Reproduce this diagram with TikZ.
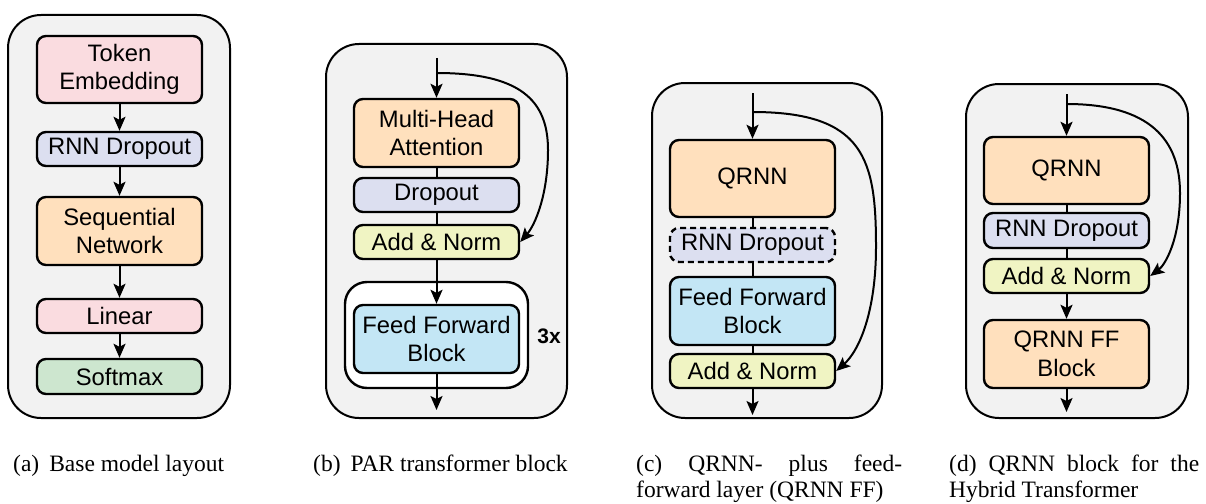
\documentclass[tikz,border=0pt]{standalone}
\usepackage{fontspec}
\setmainfont{Liberation Serif}
\setsansfont{Liberation Sans}
\usetikzlibrary{arrows.meta}
\definecolor{panelgray}{HTML}{F2F2F2}
\definecolor{cpink}{HTML}{FADCE0}
\definecolor{clav}{HTML}{DCDFF0}
\definecolor{corange}{HTML}{FFE0BD}
\definecolor{clime}{HTML}{F0F4C3}
\definecolor{cblue}{HTML}{C3E6F5}
\definecolor{cgreen}{HTML}{CDE6CF}
\begin{document}
\begin{tikzpicture}[x=1pt,y=-1pt,
  panel/.style={draw, line width=2pt, fill=panelgray, rounded corners=33pt},
  blk/.style={draw, line width=2.4pt, rounded corners=9pt, minimum width=165pt,
    inner sep=0pt, align=center, font=\sffamily\fontsize{23.8}{28.5}\selectfont},
  conn/.style={line width=2pt},
  arr/.style={conn, -{Stealth[length=14pt,width=12pt,inset=3pt]}},
  capt/.style={inner sep=0pt, anchor=base west, font=\fontsize{23.5}{26}\selectfont}]
\useasboundingbox (0,0) rectangle (1206,503);

% ---------- (a) ----------
\draw[panel] (8,15) rectangle (230,418);
\node[blk, fill=cpink, minimum height=67pt] (aTE) at (119.5,69.5) {Token\\Embedding};
\node[blk, fill=clav, minimum height=34pt] (aRD) at (119.5,149) {RNN Dropout};
\node[blk, fill=corange, minimum height=68pt] (aSN) at (119.5,231) {Sequential\\Network};
\node[blk, fill=cpink, minimum height=34pt] (aLI) at (119.5,316) {Linear};
\node[blk, fill=cgreen, minimum height=35pt] (aSM) at (119.5,376.5) {Softmax};
\draw[arr] (aTE.south) -- (aRD.north);
\draw[arr] (aRD.south) -- (aSN.north);
\draw[arr] (aSN.south) -- (aLI.north);
\draw[arr] (aLI.south) -- (aSM.north);

% ---------- (b) ----------
\draw[panel] (326,44) rectangle (567,418);
\draw[line width=2.4pt, fill=white, rounded corners=22pt] (345,282) rectangle (528,388);
\coordinate (bIn) at (436.5,58);
\coordinate (bSplit) at (436.5,73);
\coordinate (bOut) at (436.5,410);
\node[blk, fill=corange, minimum height=68pt] (bMHA) at (436.5,133) {Multi-Head\\Attention};
\node[blk, fill=clav, minimum height=34pt] (bDO) at (436.5,195) {Dropout};
\node[blk, fill=clime, minimum height=34pt] (bAN) at (436.5,242) {Add \& Norm};
\node[blk, fill=cblue, minimum height=68pt] (bFF) at (436.5,339) {Feed Forward\\Block};
\node[font=\sffamily\bfseries\fontsize{21}{24}\selectfont, inner sep=0pt] (b3x) at (549,336) {3x};
\draw[arr] (bIn) -- (bMHA.north);
\draw[conn] (bMHA.south) -- (bDO.north);
\draw[conn] (bDO.south) -- (bAN.north);
\draw[arr] (bAN.south) -- (bFF.north);
\draw[arr] (bFF.south) -- (bOut);
\draw[arr] (bSplit) .. controls (520,73) and (548,100) .. (548,150)
  .. controls (548,195) and (535,225) .. (bAN.east);

% ---------- (c) ----------
\draw[panel] (652,83) rectangle (882,418);
\coordinate (cIn) at (752.5,93);
\coordinate (cSplit) at (752.5,112);
\coordinate (cOut) at (752.5,415);
\node[blk, fill=corange, minimum height=77pt] (cQ) at (752.5,178.5) {QRNN};
\node[blk, fill=clav, minimum height=34pt, dash pattern=on 6pt off 4pt] (cRD) at (752.5,245) {RNN Dropout};
\node[blk, fill=cblue, minimum height=68pt] (cFF) at (752.5,311) {Feed Forward\\Block};
\node[blk, fill=clime, minimum height=34pt] (cAN) at (752.5,371) {Add \& Norm};
\draw[arr] (cIn) -- (cQ.north);
\draw[conn] (cQ.south) -- (cRD.north);
\draw[conn] (cRD.south) -- (cFF.north);
\draw[conn] (cFF.south) -- (cAN.north);
\draw[arr] (cAN.south) -- (cOut);
\draw[arr] (cSplit) .. controls (865,112) and (876,160) .. (876,247)
  .. controls (876,310) and (860,350) .. (cAN.east);

% ---------- (d) ----------
\draw[panel] (966,84) rectangle (1188,418);
\coordinate (dIn) at (1066.5,94);
\coordinate (dSplit) at (1066.5,104);
\coordinate (dOut) at (1066.5,412);
\node[blk, fill=corange, minimum height=67pt] (dQ) at (1066.5,170.5) {QRNN};
\node[blk, fill=clav, minimum height=35pt] (dRD) at (1066.5,230.5) {RNN Dropout};
\node[blk, fill=clime, minimum height=34pt] (dAN) at (1066.5,276) {Add \& Norm};
\node[blk, fill=corange, minimum height=68pt] (dQF) at (1066.5,354) {QRNN FF\\Block};
\draw[arr] (dIn) -- (dQ.north);
\draw[conn] (dQ.south) -- (dRD.north);
\draw[conn] (dRD.south) -- (dAN.north);
\draw[arr] (dAN.south) -- (dQF.north);
\draw[arr] (dQF.south) -- (dOut);
\draw[arr] (dSplit) .. controls (1150,104) and (1180,140) .. (1180,193)
  .. controls (1180,240) and (1165,265) .. (dAN.east);

% ---------- captions ----------
\node[capt] (capA) at (13,471) {(a)\hspace{10pt}Base model layout};
\node[capt] (capB) at (313,471) {(b)\hspace{10pt}PAR transformer block};
\node[capt] (capC1) at (636,471) {\makebox[266pt][s]{(c) QRNN- plus feed-}};
\node[capt] (capC2) at (636,497) {forward layer (QRNN FF)};
\node[capt] (capD1) at (949,471) {\makebox[250pt][s]{(d) QRNN block for the}};
\node[capt] (capD2) at (949,497) {Hybrid Transformer};
\end{tikzpicture}
\end{document}
